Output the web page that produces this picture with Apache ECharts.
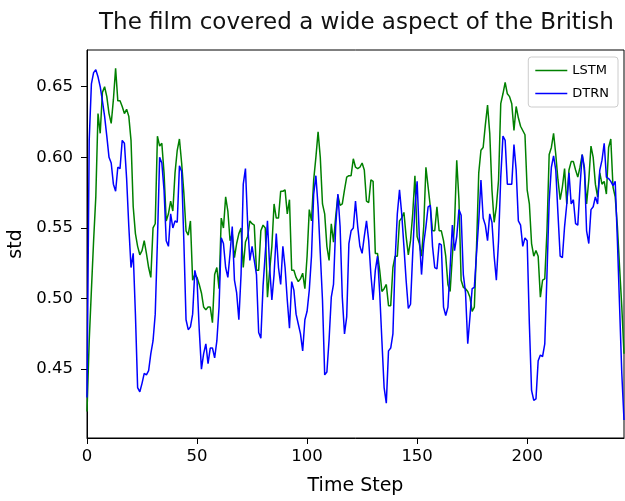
<!DOCTYPE html>
<html>
<head>
<meta charset="utf-8">
<script src="https://cdn.jsdelivr.net/npm/echarts@6/dist/echarts.min.js"></script>
<style>
  html, body { margin: 0; padding: 0; background: #fff; }
  #chart { width: 625px; height: 501px; }
</style>
</head>
<body>
<div id="chart"></div>
<script>
// values, one per time step (0..244)
const lstm = [
  0.42, 0.47, 0.506, 0.541, 0.572, 0.631, 0.617, 0.646, 0.65, 0.643,
  0.631, 0.624, 0.641, 0.663, 0.64, 0.64, 0.636, 0.631, 0.634, 0.629,
  0.612, 0.565, 0.546, 0.537, 0.531, 0.534, 0.541, 0.532, 0.522, 0.515,
  0.55, 0.553, 0.615, 0.608, 0.61, 0.589, 0.555, 0.56, 0.569, 0.562,
  0.589, 0.605, 0.613, 0.596, 0.575, 0.548, 0.545, 0.555, 0.513, 0.517,
  0.515, 0.51, 0.504, 0.494, 0.492, 0.494, 0.494, 0.483, 0.517, 0.522,
  0.507, 0.557, 0.55, 0.572, 0.562, 0.541, 0.546, 0.529, 0.539, 0.546,
  0.55, 0.522, 0.54, 0.544, 0.555, 0.553, 0.552, 0.52, 0.52, 0.548,
  0.552, 0.55, 0.501, 0.52, 0.537, 0.567, 0.557, 0.557, 0.576, 0.576,
  0.577, 0.56, 0.57, 0.52, 0.52, 0.515, 0.512, 0.514, 0.518, 0.507,
  0.53, 0.563, 0.555, 0.584, 0.6, 0.618, 0.6, 0.567, 0.56, 0.537,
  0.527, 0.553, 0.54, 0.558, 0.573, 0.566, 0.567, 0.577, 0.586, 0.587,
  0.587, 0.599, 0.593, 0.592, 0.593, 0.596, 0.591, 0.569, 0.568, 0.584,
  0.583, 0.532, 0.532, 0.52, 0.505, 0.507, 0.51, 0.495, 0.495, 0.522,
  0.53, 0.53, 0.555, 0.557, 0.561, 0.544, 0.531, 0.541, 0.56, 0.587,
  0.544, 0.539, 0.53, 0.551, 0.593, 0.579, 0.565, 0.548, 0.548, 0.565,
  0.548, 0.548, 0.541, 0.53, 0.51, 0.505, 0.53, 0.553, 0.598, 0.57,
  0.513, 0.508, 0.507, 0.505, 0.501, 0.491, 0.494, 0.537, 0.589, 0.605,
  0.607, 0.623, 0.637, 0.617, 0.577, 0.554, 0.565, 0.584, 0.638, 0.645,
  0.653, 0.645, 0.643, 0.638, 0.619, 0.636, 0.628, 0.622, 0.619, 0.616,
  0.577, 0.567, 0.539, 0.53, 0.534, 0.53, 0.501, 0.513, 0.514, 0.548,
  0.602, 0.607, 0.617, 0.602, 0.584, 0.57, 0.579, 0.592, 0.567, 0.591,
  0.597, 0.597, 0.591, 0.586, 0.593, 0.602, 0.591, 0.567, 0.584, 0.608,
  0.6, 0.581, 0.572, 0.589, 0.581, 0.583, 0.574, 0.607, 0.613, 0.579,
  0.572, 0.551, 0.522, 0.494, 0.461
];
const dtrn = [
  0.43, 0.612, 0.652, 0.66, 0.662, 0.657, 0.65, 0.64, 0.629, 0.615,
  0.6, 0.596, 0.581, 0.576, 0.593, 0.592, 0.612, 0.61, 0.585, 0.551,
  0.522, 0.532, 0.489, 0.437, 0.434, 0.44, 0.447, 0.446, 0.449, 0.461,
  0.47, 0.489, 0.541, 0.6, 0.596, 0.577, 0.541, 0.537, 0.56, 0.55,
  0.555, 0.554, 0.594, 0.59, 0.541, 0.485, 0.478, 0.48, 0.489, 0.52,
  0.513, 0.478, 0.45, 0.461, 0.468, 0.454, 0.465, 0.465, 0.458, 0.47,
  0.494, 0.543, 0.539, 0.522, 0.515, 0.532, 0.551, 0.513, 0.504, 0.485,
  0.517, 0.581, 0.592, 0.553, 0.527, 0.537, 0.527, 0.517, 0.476, 0.472,
  0.509, 0.532, 0.555, 0.522, 0.499, 0.517, 0.546, 0.522, 0.51, 0.537,
  0.522, 0.499, 0.479, 0.512, 0.506, 0.489, 0.482, 0.475, 0.463, 0.485,
  0.491, 0.506, 0.53, 0.574, 0.587, 0.565, 0.532, 0.499, 0.446, 0.448,
  0.471, 0.501, 0.51, 0.551, 0.574, 0.551, 0.501, 0.475, 0.487, 0.539,
  0.548, 0.55, 0.569, 0.551, 0.537, 0.532, 0.544, 0.555, 0.541, 0.517,
  0.499, 0.52, 0.53, 0.504, 0.47, 0.437, 0.426, 0.463, 0.465, 0.475,
  0.527, 0.56, 0.577, 0.56, 0.537, 0.513, 0.493, 0.496, 0.532, 0.565,
  0.583, 0.544, 0.517, 0.539, 0.551, 0.565, 0.566, 0.537, 0.522, 0.521,
  0.539, 0.538, 0.494, 0.488, 0.494, 0.522, 0.552, 0.534, 0.544, 0.563,
  0.559, 0.517, 0.504, 0.468, 0.487, 0.507, 0.508, 0.532, 0.555, 0.584,
  0.557, 0.552, 0.541, 0.56, 0.554, 0.53, 0.513, 0.541, 0.586, 0.615,
  0.612, 0.581, 0.581, 0.581, 0.609, 0.591, 0.555, 0.552, 0.537, 0.543,
  0.541, 0.482, 0.435, 0.428, 0.429, 0.456, 0.46, 0.459, 0.468, 0.517,
  0.569, 0.593, 0.601, 0.591, 0.56, 0.53, 0.529, 0.551, 0.567, 0.589,
  0.567, 0.57, 0.553, 0.552, 0.579, 0.602, 0.593, 0.548, 0.539, 0.563,
  0.565, 0.572, 0.567, 0.591, 0.598, 0.61, 0.586, 0.585, 0.583, 0.58,
  0.583, 0.541, 0.494, 0.447, 0.414
];
const xTicks = [0, 50, 100, 150, 200];
const yTicks = [0.45, 0.5, 0.55, 0.6, 0.65];
const titleText = "The film covered a wide aspect of the British";

const font = "DejaVu Sans";
const chart = echarts.init(document.getElementById("chart"));
chart.setOption({
  animation: false,
  backgroundColor: "#fff",
  textStyle: { fontFamily: font },
  title: {
    text: titleText,
    left: 94,
    top: 7,
    textStyle: { fontFamily: font, fontSize: 23, fontWeight: "normal", color: "#111" }
  },
  legend: {
    data: ["LSTM", "DTRN"],
    orient: "vertical",
    right: 7,
    top: 57,
    icon: "rect",
    itemWidth: 32,
    itemHeight: 1.5,
    itemGap: 10,
    padding: [7, 9, 7, 7],
    borderColor: "#ccc",
    borderWidth: 1,
    borderRadius: 3,
    textStyle: { fontFamily: font, fontSize: 13, color: "#000" }
  },
  grid: {
    left: 87,
    right: 1,
    top: 50,
    bottom: 63,
    show: true,
    borderColor: "#000",
    borderWidth: 1,
    containLabel: false,
    outerBoundsMode: "none"
  },
  xAxis: {
    type: "value",
    min: 0,
    max: lstm.length - 1,
    name: "Time Step",
    nameLocation: "middle",
    nameGap: 39,
    nameTextStyle: { fontFamily: font, fontSize: 19, color: "#000" },
    axisLine: { show: true, lineStyle: { color: "#000", width: 1 } },
    axisTick: { show: true, length: 6, customValues: xTicks, lineStyle: { color: "#000" } },
    axisLabel: { customValues: xTicks, fontSize: 16.5, color: "#000", margin: 10 },
    splitLine: { show: false }
  },
  yAxis: {
    type: "value",
    min: 0.4013,
    max: 0.676,
    name: "std",
    nameLocation: "middle",
    nameGap: 57,
    nameTextStyle: { fontFamily: font, fontSize: 19, color: "#000" },
    axisLine: { show: true, lineStyle: { color: "#000", width: 1 } },
    axisTick: { show: true, length: 6, customValues: yTicks, lineStyle: { color: "#000" } },
    axisLabel: {
      customValues: yTicks,
      fontSize: 16.5,
      color: "#000",
      margin: 14,
      formatter: v => v.toFixed(2)
    },
    splitLine: { show: false }
  },
  series: [
    {
      name: "LSTM",
      type: "line",
      symbol: "none",
      color: "#008000",
      lineStyle: { width: 1.5, color: "#008000" },
      data: lstm.map((v, i) => [i, v])
    },
    {
      name: "DTRN",
      type: "line",
      symbol: "none",
      color: "#0000ff",
      lineStyle: { width: 1.5, color: "#0000ff" },
      data: dtrn.map((v, i) => [i, v])
    }
  ]
});
</script>
</body>
</html>
